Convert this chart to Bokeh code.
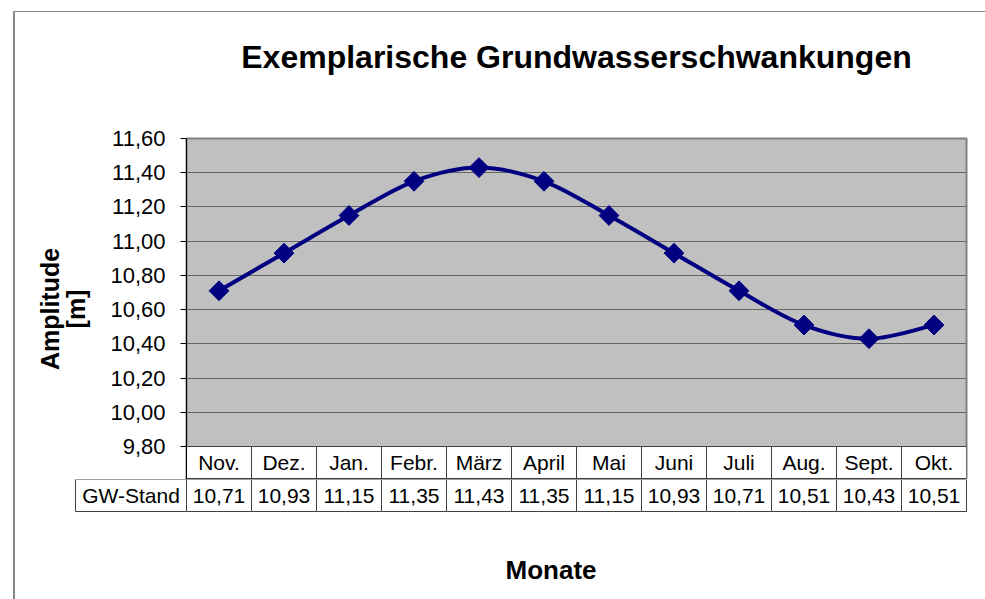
import numpy as np
from bokeh.plotting import figure
from bokeh.models import Range1d, FixedTicker, CustomJSTickFormatter, Title
from bokeh.layouts import column
from bokeh.embed import file_html
from bokeh.resources import INLINE
from bokeh.core.properties import value

# ---------------- data ----------------
months = ["Nov.", "Dez.", "Jan.", "Febr.", "März", "April", "Mai", "Juni",
          "Juli", "Aug.", "Sept.", "Okt."]
gw_stand = [10.71, 10.93, 11.15, 11.35, 11.43, 11.35, 11.15, 10.93,
            10.71, 10.51, 10.43, 10.51]
y_ticks = [9.8, 10.0, 10.2, 10.4, 10.6, 10.8, 11.0, 11.2, 11.4, 11.6]
series_name = "GW-Stand"
title_text = "Exemplarische Grundwasserschwankungen"
y_label = "Amplitude\n[m]"
x_label = "Monate"

# ---------------- style / layout constants ----------------
FONT = "Liberation Sans"
NAVY = "#000080"
CELL_LINE = "#404040"
W = 970
H_A = 467
H_B = 120
PX_X = 65.0                     # px per category
PX_Y = 308 / 1.8                # px per y unit
ROW_PX = 32.0                   # table row height in px
ROW_H = ROW_PX / PX_Y           # table row height in y units
LABEL_W = 111 / PX_X            # row-header column width in category units
PADX = 1 / PX_X

n = len(months)
xs = np.arange(n, dtype=float)
ys = np.array(gw_stand, dtype=float)
y_lo, y_hi = y_ticks[0], y_ticks[-1]

# ---------------- chart (plot area + month row) ----------------
p = figure(width=W, height=H_A,
           x_range=Range1d(-0.5, n - 0.5),
           y_range=Range1d(y_lo - ROW_H - 1 / PX_Y, y_hi),
           output_backend="svg", toolbar_location=None,
           title_location=None, frame_align=False,
           min_border_left=171, min_border_right=19,
           min_border_top=126, min_border_bottom=0,
           background_fill_color="#c0c0c0",
           border_fill_color="white")
p.outline_line_color = "#808080"
p.outline_line_width = 2

# spacer (nearest to the frame) and the chart title above it
p.add_layout(Title(text=" ", text_font_size="10px", standoff=49), "above")
p.add_layout(Title(text=title_text, align="center", standoff=4,
                   text_font=FONT, text_font_size="32px", text_font_style="bold",
                   text_color="black"), "above")

p.xaxis.visible = False
p.xgrid.visible = False
p.ygrid.ticker = FixedTicker(ticks=y_ticks)
p.ygrid.grid_line_color = "#666666"
p.ygrid.grid_line_width = 1

ax = p.yaxis[0]
ax.ticker = FixedTicker(ticks=y_ticks)
ax.formatter = CustomJSTickFormatter(code="return tick.toFixed(2).replace('.', ',');")
ax.major_tick_out = 6
ax.major_tick_in = 0
ax.minor_tick_line_color = None
ax.axis_line_color = "black"
ax.major_tick_line_color = "black"
ax.major_label_text_font = FONT
ax.major_label_text_font_size = "22px"
ax.major_label_text_color = "black"
ax.major_label_standoff = 15
ax.axis_label = y_label
ax.axis_label_text_font = FONT
ax.axis_label_text_font_size = "25px"
ax.axis_label_text_font_style = "bold"
ax.axis_label_text_color = "black"
ax.axis_label_standoff = 17
ax.axis_label_text_line_height = 0.93

# month row of the data table (white cells under the plot area)
p.quad(left=xs - 0.5, right=xs + 0.5, bottom=y_lo - ROW_H, top=y_lo,
       fill_color="white", line_color=CELL_LINE, line_width=1)
p.text(x=xs, y=[y_lo - ROW_H / 2] * n, text=months, text_align="center",
       text_baseline="middle", text_font=value(FONT), text_font_size="21px",
       text_color="black")

# smoothed line (Catmull-Rom -> cubic Bezier), computed from the data
xp = np.concatenate([[xs[0]], xs, [xs[-1]]])
yp = np.concatenate([[ys[0]], ys, [ys[-1]]])
x0 = xs[:-1]; y0 = ys[:-1]; x1 = xs[1:]; y1 = ys[1:]
cx0 = x0 + (xp[2:n + 1] - xp[0:n - 1]) / 6.0
cy0 = y0 + (yp[2:n + 1] - yp[0:n - 1]) / 6.0
cx1 = x1 - (xp[3:n + 2] - xp[1:n]) / 6.0
cy1 = y1 - (yp[3:n + 2] - yp[1:n]) / 6.0
p.bezier(x0=x0, y0=y0, x1=x1, y1=y1, cx0=cx0, cy0=cy0, cx1=cx1, cy1=cy1,
         line_color=NAVY, line_width=4)
p.scatter(xs, ys, marker="square", size=14, angle=np.pi / 4,
          fill_color=NAVY, line_color=NAVY)

# ---------------- value row of the data table ----------------
t = figure(width=W, height=H_B,
           x_range=Range1d(-0.5 - LABEL_W - PADX, n - 0.5 + PADX),
           y_range=Range1d(-1 / ROW_PX, 1),
           output_backend="svg", toolbar_location=None,
           title_location=None, frame_align=False,
           min_border_left=59, min_border_right=18,
           min_border_top=0, min_border_bottom=H_B - 33,
           background_fill_color="white", border_fill_color="white")
t.outline_line_color = None
t.axis.visible = False
t.grid.visible = False

t.quad(left=np.concatenate([[-0.5 - LABEL_W], xs - 0.5]),
       right=np.concatenate([[-0.5], xs + 0.5]),
       bottom=0, top=1, fill_color="white", line_color=CELL_LINE, line_width=1)

val_txt = [f"{v:.2f}".replace(".", ",") for v in gw_stand]
t.text(x=xs, y=[0.5] * n, text=val_txt, text_align="center", text_baseline="middle",
       text_font=value(FONT), text_font_size="21px", text_color="black")
t.text(x=[-0.5 - LABEL_W / 2], y=[0.5], text=[series_name], text_align="center",
       text_baseline="middle", text_font=value(FONT), text_font_size="21px",
       text_color="black")

t.add_layout(Title(text=" ", text_font_size="10px", standoff=25), "below")
t.add_layout(Title(text=x_label, align="left", offset=431, standoff=4,
                   text_font=FONT, text_font_size="26px", text_font_style="bold",
                   text_color="black"), "below")

layout = column(p, t, spacing=0,
                styles={"margin-left": "13px", "margin-top": "11px",
                        "border-left": "2px solid #888888",
                        "border-top": "1px solid #888888"})
open("out.html", "w").write(file_html(layout, INLINE))
